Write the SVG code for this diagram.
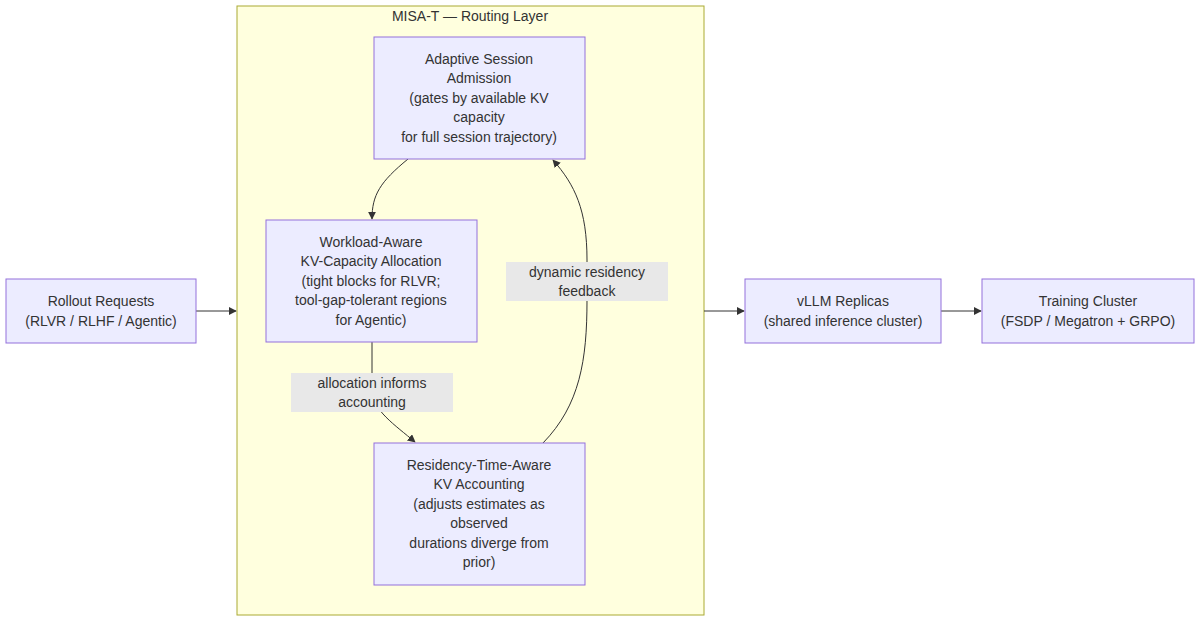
<svg xmlns="http://www.w3.org/2000/svg" width="1200" height="622" viewBox="0 0 1200 622">
<style>
.n rect{fill:#ececff;stroke:#9370db;stroke-width:1}
text{font-family:"Liberation Sans",Arial,sans-serif;font-size:14px;fill:#333;text-anchor:middle}
.e{fill:none;stroke:#333;stroke-width:1}
.lb{fill:#e8e8e8}
</style>
<defs><marker id="a" viewBox="0 0 10 10" refX="9" refY="5" markerWidth="8" markerHeight="8" orient="auto"><path d="M0,0L10,5L0,10z" fill="#333"/></marker></defs>
<g id="cluster"><rect x="237" y="6" width="467" height="609" fill="#ffffde" stroke="#aaaa33"/><text x="470" y="21">MISA-T — Routing Layer</text></g>
<g id="edges">
<path class="e" d="M196,311H236" marker-end="url(#a)"/>
<path class="e" d="M704,311H744" marker-end="url(#a)"/>
<path class="e" d="M941,311H981" marker-end="url(#a)"/>
<path class="e" d="M408,159C380,182 372,195 372,219" marker-end="url(#a)"/>
<path class="e" d="M372,342V390C372,410 395,425 415,442" marker-end="url(#a)"/>
<path class="e" d="M543,443C580,405 587,360 587,300V260C587,210 575,185 553,160" marker-end="url(#a)"/>
</g>
<g id="lbl1"><rect class="lb" x="291" y="373" width="162" height="39"/><text x="372" y="388">allocation informs</text><text x="372" y="407">accounting</text></g>
<g id="lbl2"><rect class="lb" x="506" y="262" width="162" height="39"/><text x="587" y="277">dynamic residency</text><text x="587" y="296">feedback</text></g>
<g id="rollout" class="n"><rect x="6" y="279" width="190" height="64"/><text x="101" y="306">Rollout Requests</text><text x="101" y="326">(RLVR / RLHF / Agentic)</text></g>
<g id="adaptive" class="n"><rect x="374" y="37" width="211" height="122"/><text x="479" y="64">Adaptive Session</text><text x="479" y="83">Admission</text><text x="479" y="103">(gates by available KV</text><text x="479" y="122">capacity</text><text x="479" y="142">for full session trajectory)</text></g>
<g id="workload" class="n"><rect x="266" y="220" width="211" height="122"/><text x="371" y="247">Workload-Aware</text><text x="371" y="266">KV-Capacity Allocation</text><text x="371" y="286">(tight blocks for RLVR;</text><text x="371" y="305">tool-gap-tolerant regions</text><text x="371" y="325">for Agentic)</text></g>
<g id="residency" class="n"><rect x="374" y="443" width="211" height="142"/><text x="479" y="470">Residency-Time-Aware</text><text x="479" y="489">KV Accounting</text><text x="479" y="509">(adjusts estimates as</text><text x="479" y="528">observed</text><text x="479" y="548">durations diverge from</text><text x="479" y="567">prior)</text></g>
<g id="vllm" class="n"><rect x="745" y="279" width="196" height="64"/><text x="843" y="306">vLLM Replicas</text><text x="843" y="326">(shared inference cluster)</text></g>
<g id="training" class="n"><rect x="982" y="279" width="212" height="64"/><text x="1088" y="306">Training Cluster</text><text x="1088" y="326">(FSDP / Megatron + GRPO)</text></g>
</svg>
